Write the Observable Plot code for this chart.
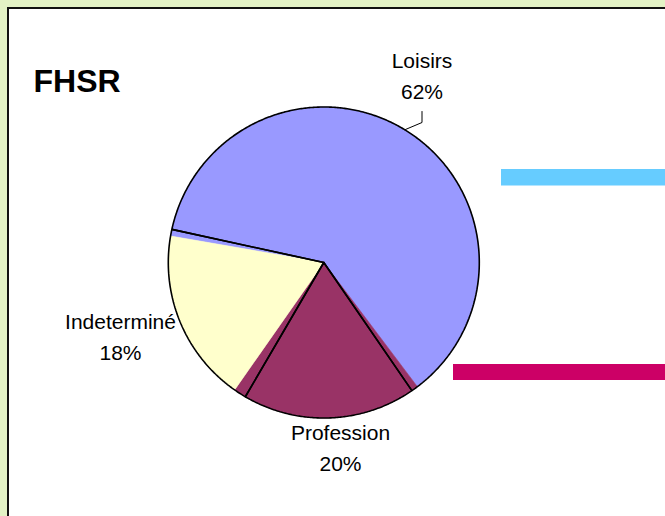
<!DOCTYPE html>
<html><head><meta charset="utf-8">
<script src="https://cdn.jsdelivr.net/npm/d3@7"></script>
<script src="https://cdn.jsdelivr.net/npm/@observablehq/plot@0.6"></script>
<style>
html,body{margin:0;padding:0;background:#e3f2c5;width:665px;height:516px;overflow:hidden;font-family:"Liberation Sans",Arial,sans-serif;}
#panel{position:absolute;left:7px;top:7px;width:700px;height:600px;background:#fff;border-left:2px solid #111;border-top:2px solid #111;}
#chart{position:absolute;left:0;top:0;}
</style></head><body>
<div id="panel"></div><div id="chart"></div>
<script>
// ---- data ----
const title = "FHSR";
const categories = ["Loisirs", "Profession", "Indeterminé"];
const shares = [62, 20, 18];
const sliceColors = ["#9999ff", "#993366", "#ffffcc"];
// the original's slice outlines are drawn in a different order than the fills
const outlineOrder = ["Loisirs", "Indeterminé", "Profession"];
const stripeColors = ["#66ccff", "#cc0066"];

// ---- layout ----
const W = 665, H = 516;
const cx = 323.3, cy = 262, R = 155.5;
const fillStart = 279.8, outlineStart = 282.3;
const labelPos = {
  "Loisirs": {x: 421.5, y: 67},
  "Profession": {x: 340, y: 439},
  "Indeterminé": {x: 120, y: 328}
};
const lineGap = 31;
const stripes = [
  {x1: 501, x2: 666, y1: 169, y2: 185.5},
  {x1: 453, x2: 666, y1: 364, y2: 380}
];

function pt(deg, r) {
  const a = deg * Math.PI / 180;
  return [cx + r * Math.sin(a), cy - r * Math.cos(a)];
}
function wedge(cat, a0, a1, out) {
  out.push({cat, x: cx, y: cy});
  const n = Math.max(2, Math.ceil((a1 - a0) / 0.5));
  for (let i = 0; i <= n; i++) {
    const [x, y] = pt(a0 + (a1 - a0) * i / n, R);
    out.push({cat, x, y});
  }
  out.push({cat, x: cx, y: cy});
}
const total = d3.sum(shares);
const valueOf = new Map(categories.map((c, i) => [c, shares[i]]));

// fills
const fillPts = [];
const mids = {};
let a = fillStart;
categories.forEach((c, i) => {
  const span = shares[i] / total * 360;
  wedge(c, a, a + span, fillPts);
  mids[c] = a + span / 2;
  a += span;
});
// outlines
const outlinePts = [];
a = outlineStart;
outlineOrder.forEach(c => {
  const span = valueOf.get(c) / total * 360;
  wedge("o-" + c, a, a + span, outlinePts);
  a += span;
});
// leader line for Loisirs
const [lx0, ly0] = pt(mids["Loisirs"], R);
const lp = labelPos["Loisirs"];
const leader = [
  {x: lx0, y: ly0},
  {x: lp.x, y: lp.y + lineGap + 24},
  {x: lp.x, y: lp.y + lineGap + 13}
];

const nameRows = categories.map((c, i) => ({cat: c, x: labelPos[c].x, y: labelPos[c].y, t: c}));
const pctRows = categories.map((c, i) => ({cat: c, x: labelPos[c].x, y: labelPos[c].y + lineGap, t: Math.round(shares[i]) + "%"}));
const stripeRows = stripes.map((s, i) => ({...s, c: stripeColors[i]}));

const chart = Plot.plot({
  width: W, height: H,
  margin: 0,
  style: {background: "transparent", fontFamily: "'Liberation Sans', Arial, sans-serif"},
  x: {domain: [0, W], range: [0, W], axis: null},
  y: {domain: [0, H], range: [0, H], axis: null},
  color: {domain: categories, range: sliceColors},
  marks: [
    Plot.rect(stripeRows, {x1: "x1", x2: "x2", y1: "y1", y2: "y2", fill: d => d.c, inset: 0}),
    Plot.line(fillPts, {x: "x", y: "y", z: "cat", fill: "cat", stroke: "cat", strokeWidth: 0.6, curve: "linear"}),
    Plot.line(outlinePts, {x: "x", y: "y", z: "cat", stroke: "#000", strokeWidth: 1.6, fill: "none", curve: "linear", strokeLinejoin: "miter"}),
    Plot.line(leader, {x: "x", y: "y", stroke: "#000", strokeWidth: 1, curve: "linear"}),
    Plot.text(nameRows, {x: "x", y: "y", text: "t", fontSize: 21, fill: "#000", textAnchor: "middle", lineAnchor: "bottom"}),
    Plot.text(pctRows, {x: "x", y: "y", text: "t", fontSize: 21, fill: "#000", textAnchor: "middle", lineAnchor: "bottom"}),
    Plot.text([title], {frameAnchor: "top-left", dx: 33, dy: 91.5, text: d => d, fontSize: 32, fontWeight: "bold", fill: "#000", textAnchor: "start", lineAnchor: "bottom"})
  ]
});
document.getElementById("chart").appendChild(chart);
</script>
</body></html>
